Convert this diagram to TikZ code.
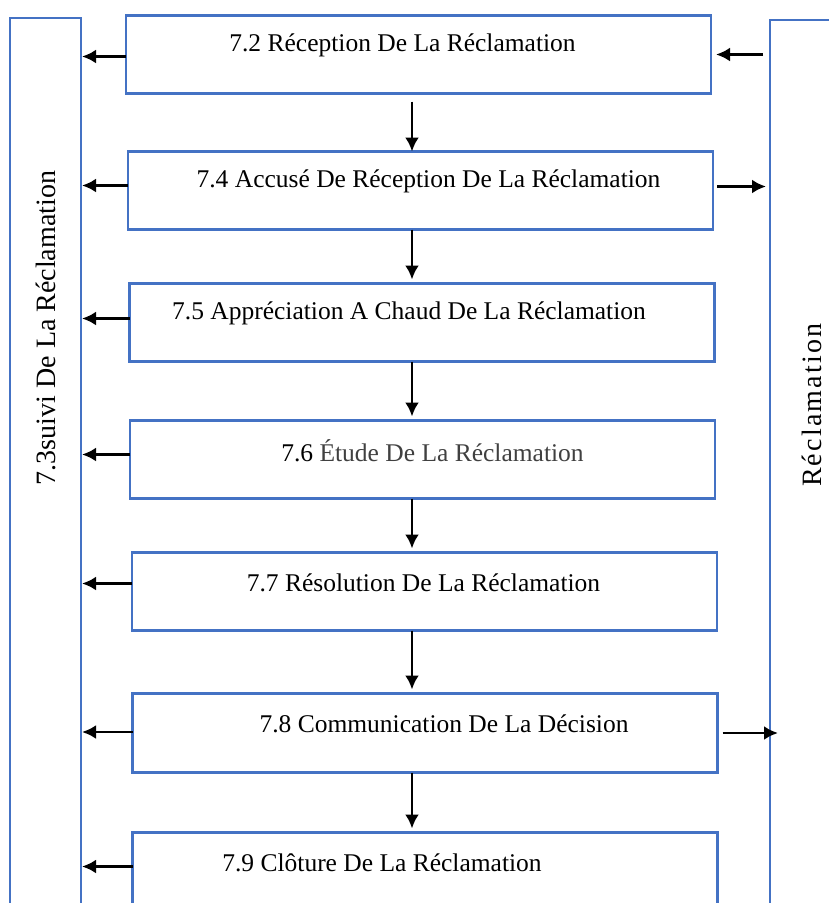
\documentclass[tikz,border=0pt]{standalone}
\usepackage{fontspec}
\setmainfont{Liberation Serif}
\usepackage{tikz}
\usetikzlibrary{arrows.meta, positioning}

\definecolor{boxblue}{HTML}{4472C4}
\definecolor{textgray}{HTML}{404040}

\begin{document}
\begin{tikzpicture}[x=1pt, y=-1pt, font=\fontsize{25.5}{30}\selectfont,
    stage/.style={draw=boxblue, line width=2.5pt, rectangle, minimum width=585pt, minimum height=78pt, inner sep=0pt, outer sep=0pt},
    side/.style={draw=boxblue, line width=2.5pt, rectangle, minimum width=71pt, minimum height=1000pt, inner sep=0pt, outer sep=0pt, anchor=north west},
    sidetext/.style={rotate=90, font=\fontsize{28}{32}\selectfont},
    flow/.style={-{Latex[length=14pt, width=14pt]}, line width=2.8pt}]

    \useasboundingbox (0,0) rectangle (829,903);
    \clip (0,0) rectangle (829,903);

    % Side columns
    \node[side] (track) at (10,18) {};
    \node[side, minimum width=100pt] (claim) at (770,20) {};
    \node[sidetext] at (46,328) {7.3suivi De La Réclamation};
    \node[sidetext] at (812,405) {\addfontfeature{LetterSpace=8}Réclamation};

    % Steps
    \node[stage] (s1) at (418.5,54.5) {};
    \node[stage, below=58pt of s1, xshift=2pt] (s2) {};
    \node[stage, below=54pt of s2, xshift=1.5pt] (s3) {};
    \node[stage, below=59pt of s3, xshift=0.5pt] (s4) {};
    \node[stage, below=54pt of s4, xshift=2pt] (s5) {};
    \node[stage, below=63pt of s5, xshift=0.5pt, minimum height=79pt] (s6) {};
    \node[stage, below=60pt of s6] (s7) {};

    % Step texts
    \node at ([xshift=-16pt, yshift=9pt]s1.center) {7.2 Réception De La Réclamation};
    \node at ([xshift=8pt, yshift=9pt]s2.center) {7.4 Accusé De Réception De La Réclamation};
    \node at ([xshift=-13pt, yshift=9pt]s3.center) {7.5 Appréciation A Chaud De La Réclamation};
    \node at ([xshift=10pt, yshift=9pt]s4.center) {7.6 \textcolor{textgray}{Étude De La Réclamation}};
    \node at ([xshift=-1pt, yshift=9pt]s5.center) {7.7 Résolution De La Réclamation};
    \node at ([xshift=19pt, yshift=9pt]s6.center) {7.8 Communication De La Décision};
    \node at ([xshift=-43pt, yshift=9pt]s7.center) {7.9 Clôture De La Réclamation};

    % Main flow
    \coordinate (spine) at (412,0);
    \draw[flow, shorten <=8pt] (s1.south -| spine) -- (s2.north -| spine);
    \foreach \a/\b in {s2/s3, s3/s4, s4/s5, s5/s6, s6/s7}
        \draw[flow, shorten >=4pt] (\a.south -| spine) -- (\b.north -| spine);

    % Links to follow-up column
    \foreach \s/\dy in {s1/-2, s2/5, s3/4, s4/5, s5/8, s6/1, s7/5}
        \draw[flow, shorten >=1pt, transform canvas={yshift=\dy pt}] (\s.west) -- (\s.west -| track.east);

    % Links with claim column
    \draw[flow, shorten <=7pt, shorten >=5pt] (s1.east -| claim.west) -- (s1.east);
    \draw[flow, shorten <=4pt, shorten >=4pt, transform canvas={yshift=4pt}] (s2.east) -- (s2.east -| claim.west);
    \draw[flow, shorten <=5pt, shorten >=-8pt] (s6.east) -- (s6.east -| claim.west);
\end{tikzpicture}
\end{document}
